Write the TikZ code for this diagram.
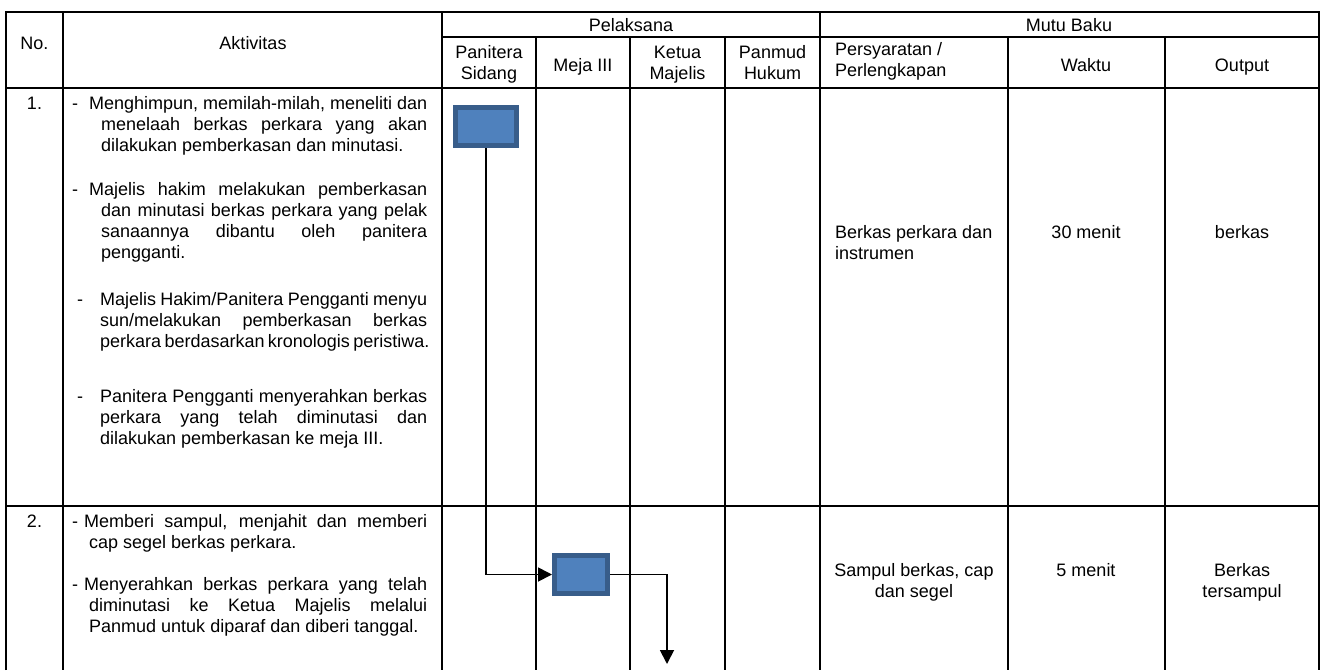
\documentclass[tikz,border=0pt]{standalone}
\usepackage{fontspec}
\setmainfont{Liberation Sans}
\usetikzlibrary{arrows.meta}

\definecolor{isikotak}{HTML}{4F81BD}
\definecolor{tepikotak}{HTML}{385D8A}

\tikzset{
	garis/.style={black, line width=2.2pt},
	kotak/.style={draw=tepikotak, fill=isikotak, line width=5pt},
	alur/.style={black, line width=1.8pt, -{Triangle[length=14pt,width=14pt]}},
}

\newcommand{\butir}[2]{\vtop{\hsize=#1 #2}}
\newcommand{\pertama}[3]{\hbox to\hsize{\hskip-#1\llap{-\hskip#2}#3}}
\newcommand{\rata}[1]{\hbox to\hsize{#1}}
\newcommand{\akhir}[1]{\hbox to\hsize{#1\hfil}}
\newcommand{\tengah}[2]{\vtop{\halign{\hfil##\hfil\cr #1\cr #2\cr}}}
\newcommand{\kiri}[2]{\vtop{\halign{##\hfil\cr #1\cr #2\cr}}}

\begin{document}
\begin{tikzpicture}[x=1pt, y=-1pt]
		\tikzstyle{every node}+=[inner sep=0pt, font=\fontsize{18}{21}\selectfont]
		\useasboundingbox (0,0) rectangle (1323,670);
		\draw [garis] (6,670) -- (6,12) -- (1319,12) -- (1319,670);
		\draw [garis] (442,37) -- (1319,37);
		\draw [garis] (6,88) -- (1319,88);
		\draw [garis] (6,506) -- (1319,506);
		\foreach \x in {63,442,820}
			\draw [garis] (\x,12) -- (\x,670);
		\foreach \x in {536,630,725,1008,1165}
			\draw [garis] (\x,37) -- (\x,670);
		\node [anchor=base] (no) at (34.5,49.5) {No.};
		\node [anchor=base] (aktivitas) at (253,49.5) {Aktivitas};
		\node [anchor=base] (pelaksana) at (631,31) {Pelaksana};
		\node [anchor=base] (mutubaku) at (1069,31) {Mutu Baku};
		\node [anchor=base] (panitera) at (489,58) {\tengah{Panitera}{Sidang}};
		\node [anchor=base] (meja) at (583,71) {Meja III};
		\node [anchor=base] (ketua) at (677.5,58) {\tengah{Ketua}{Majelis}};
		\node [anchor=base] (panmud) at (772.5,58) {\tengah{Panmud}{Hukum}};
		\node [anchor=base west] (syarat) at (835,55) {\kiri{Persyaratan /}{Perlengkapan}};
		\node [anchor=base] (waktu) at (1086,71) {Waktu};
		\node [anchor=base] (output) at (1242,71) {Output};
		\node [anchor=base] (no1) at (34.5,109) {1.};
		\node [anchor=base west] (a1) at (101,109) {\butir{326pt}{
			\pertama{12pt}{11pt}{Menghimpun, memilah-milah, meneliti dan}
			\rata{menelaah berkas perkara yang akan}
			\akhir{dilakukan pemberkasan dan minutasi.}}};
		\node [anchor=base west] (a2) at (101,195) {\butir{326pt}{
			\pertama{12pt}{11pt}{Majelis hakim melakukan pemberkasan}
			\rata{dan minutasi berkas perkara yang pelak}
			\rata{sanaannya dibantu oleh panitera}
			\akhir{pengganti.}}};
		\node [anchor=base west] (a3) at (100,305) {\butir{327pt}{
			\pertama{0pt}{17pt}{Majelis Hakim/Panitera Pengganti menyu}
			\rata{sun/melakukan pemberkasan berkas}
			\akhir{perkara berdasarkan kronologis peristiwa.}}};
		\node [anchor=base west] (a4) at (100,402) {\butir{327pt}{
			\pertama{0pt}{17pt}{Panitera Pengganti menyerahkan berkas}
			\rata{perkara yang telah diminutasi dan}
			\akhir{dilakukan pemberkasan ke meja III.}}};
		\node [anchor=base west] (syarat1) at (835,238) {\kiri{Berkas perkara dan}{instrumen}};
		\node [anchor=base] (waktu1) at (1086,238) {30 menit};
		\node [anchor=base] (output1) at (1242,238) {berkas};
		\node [anchor=base] (no2) at (34.5,527) {2.};
		\node [anchor=base west] (b1) at (89,527) {\butir{338pt}{
			\pertama{5pt}{6pt}{Memberi sampul, menjahit dan memberi}
			\akhir{cap segel berkas perkara.}}};
		\node [anchor=base west] (b2) at (89,590) {\butir{338pt}{
			\pertama{5pt}{6pt}{Menyerahkan berkas perkara yang telah}
			\rata{diminutasi ke Ketua Majelis melalui}
			\akhir{Panmud untuk diparaf dan diberi tanggal.}}};
		\node [anchor=base] (syarat2) at (914,576) {\tengah{Sampul berkas, cap}{dan segel}};
		\node [anchor=base] (waktu2) at (1086,576) {5 menit};
		\node [anchor=base] (output2) at (1242,576) {\tengah{Berkas}{tersampul}};
		\node [kotak, minimum width=61pt, minimum height=38pt] (kotak1) at (486,126.5) {};
		\node [kotak, minimum width=53pt, minimum height=38pt] (kotak2) at (581,574.5) {};
		\coordinate (ujung) at (667,664);
		\draw [alur] (kotak1.south) |- (kotak2.west);
		\draw [alur] (kotak2.east) -| (ujung);
\end{tikzpicture}
\end{document}
